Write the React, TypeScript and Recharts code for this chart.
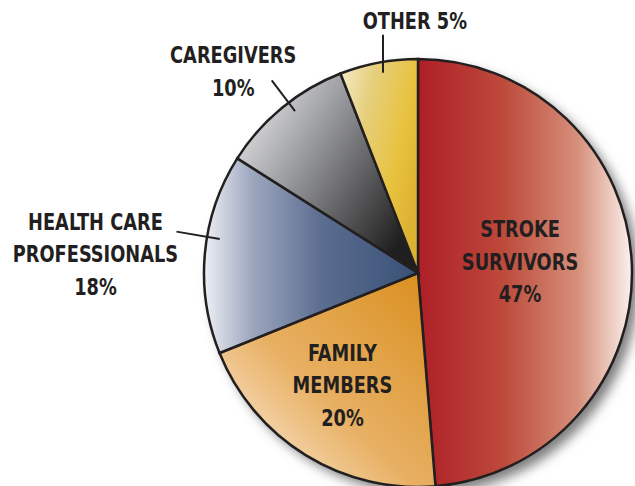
import React from 'react'
import { PieChart, Pie, Cell } from 'recharts'

// slices clockwise from 12 o'clock
const categories = ['STROKE SURVIVORS', 'FAMILY MEMBERS', 'HEALTH CARE PROFESSIONALS', 'CAREGIVERS', 'OTHER']
// share of the circle each slice takes in the picture
const sliceShares = [48.7, 20.2, 15.1, 10.1, 5.9]
// printed percentages
const percentLabels = ['47%', '20%', '18%', '10%', '5%']
const labelLines = [
  ['STROKE', 'SURVIVORS', percentLabels[0]],
  ['FAMILY', 'MEMBERS', percentLabels[1]],
  ['HEALTH CARE', 'PROFESSIONALS', percentLabels[2]],
  ['CAREGIVERS', percentLabels[3]],
  ['OTHER ' + percentLabels[4]],
]

const data = categories.map((name, i) => ({ name, value: sliceShares[i] }))

const gradientIds = ['gStroke', 'gFamily', 'gHealth', 'gCare', 'gOther']
const INK = '#231f20'
const FONT = '"DejaVu Sans Condensed", "DejaVu Sans", sans-serif'
const RADIAN = Math.PI / 180

// label placement: radius factor and angle shift from the slice middle
const labelStyle = [
  { r: 0.48, shift: 4.4 },
  { r: 0.63, shift: -2.4 },
  { r: 1.51, shift: 1.8, leader: { shift: -4.5, r1: 0.94, r2: 1.145 } },
  { r: 1.28, shift: 3, leader: { shift: -2.2, r1: 0.95, r2: 1.13 } },
  { r: 1.18, shift: -9.9, leader: { shift: -0.7, r1: 0.95, up: 38 } },
]

const polar = (cx: number, cy: number, r: number, deg: number) => ({
  x: cx + r * Math.cos(-deg * RADIAN),
  y: cy + r * Math.sin(-deg * RADIAN),
})

const renderLabel = (props: any) => {
  const { cx, cy, midAngle, outerRadius, index } = props
  const s = labelStyle[index]
  const lines = labelLines[index]
  const p = polar(cx, cy, outerRadius * s.r, midAngle + s.shift)
  const lh = 32.5
  let leader = null
  if (s.leader) {
    const a = polar(cx, cy, outerRadius * s.leader.r1, midAngle + s.leader.shift)
    const b = s.leader.up
      ? { x: a.x, y: a.y - s.leader.up }
      : polar(cx, cy, outerRadius * s.leader.r2!, midAngle + s.leader.shift)
    leader = <line x1={a.x} y1={a.y} x2={b.x} y2={b.y} stroke={INK} strokeWidth={2} />
  }
  return (
    <g>
      {leader}
      <text
        transform={`translate(${p.x},${p.y}) scale(0.86,1)`}
        x={0}
        y={0}
        textAnchor="middle"
        dominantBaseline="central"
        fill={INK}
        fontFamily={FONT}
        fontWeight="bold"
        fontSize={23}
      >
        {lines.map((t, i) => (
          <tspan key={i} x={0} dy={i === 0 ? -((lines.length - 1) / 2) * lh : lh}>
            {t}
          </tspan>
        ))}
      </text>
    </g>
  )
}

export default function App() {
  return (
    <div style={{ position: 'absolute', left: 0, top: 0, width: 635, height: 486, background: '#fff' }}>
      <PieChart width={635} height={486} margin={{ top: 0, right: 0, bottom: 0, left: 0 }}>
        <defs>
          <filter id="pieShadow" x="-20%" y="-20%" width="140%" height="140%">
            <feGaussianBlur stdDeviation="6" />
          </filter>
          <linearGradient id="gStroke" x1="0" y1="0" x2="1" y2="0">
            <stop offset="0%" stopColor="#ae1f27" />
            <stop offset="40%" stopColor="#bd4a3b" />
            <stop offset="75%" stopColor="#d6907b" />
            <stop offset="100%" stopColor="#fbf1ed" />
          </linearGradient>
          <linearGradient id="gFamily" x1="0" y1="1" x2="1" y2="0">
            <stop offset="0%" stopColor="#fef6ec" />
            <stop offset="45%" stopColor="#e8b064" />
            <stop offset="100%" stopColor="#d98e1c" />
          </linearGradient>
          <linearGradient id="gHealth" x1="0" y1="0" x2="1" y2="0">
            <stop offset="0%" stopColor="#eef0f5" />
            <stop offset="22%" stopColor="#9ea8bf" />
            <stop offset="55%" stopColor="#5b6d90" />
            <stop offset="100%" stopColor="#385176" />
          </linearGradient>
          <linearGradient id="gCare" x1="0" y1="0" x2="1" y2="0.7">
            <stop offset="0%" stopColor="#fafafa" />
            <stop offset="40%" stopColor="#a2a3a7" />
            <stop offset="100%" stopColor="#1f1f1f" />
          </linearGradient>
          <linearGradient id="gOther" x1="0" y1="0" x2="1" y2="0.6">
            <stop offset="0%" stopColor="#f6eccb" />
            <stop offset="35%" stopColor="#e6cf7c" />
            <stop offset="75%" stopColor="#e8c23e" />
            <stop offset="100%" stopColor="#dcb232" />
          </linearGradient>
        </defs>
        <Pie
          data={data}
          dataKey="value"
          cx={425}
          cy={280}
          outerRadius={214}
          startAngle={90}
          endAngle={-270}
          stroke="none"
          fill="#7d7d7d"
          filter="url(#pieShadow)"
          isAnimationActive={false}
        />
        <Pie
          data={data}
          dataKey="value"
          nameKey="name"
          cx={418}
          cy={273}
          outerRadius={214}
          startAngle={90}
          endAngle={-270}
          stroke={INK}
          strokeWidth={2.5}
          label={renderLabel}
          labelLine={false}
          isAnimationActive={false}
        >
          {data.map((d, i) => (
            <Cell key={d.name} fill={`url(#${gradientIds[i]})`} />
          ))}
        </Pie>
      </PieChart>
    </div>
  )
}
